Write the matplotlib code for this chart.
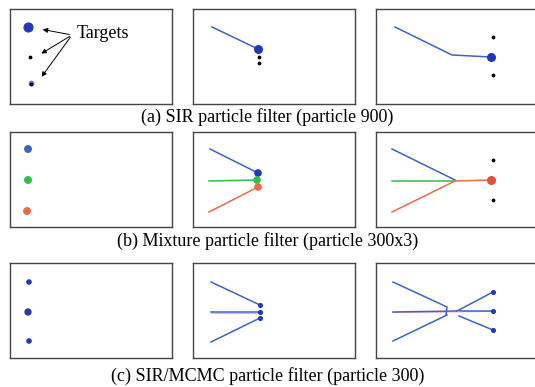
import matplotlib
matplotlib.use("Agg")
import matplotlib.pyplot as plt

# panel frame in pixel units (x right, y down), 162 x 95
BLUE = "#3b63c9"
BLOB = "#2338b8"
GREEN = "#2fbf45"
RED = "#ec6a45"

captions = [
    "(a) SIR particle filter (particle 900)",
    "(b) Mixture particle filter (particle 300x3)",
    "(c) SIR/MCMC particle filter (particle 300)",
]

# row a: SIR
a1_dots_x = [20, 21]
a1_dots_y = [48, 75]
a2_track_x = [19, 65]
a2_track_y = [18, 40]
a2_dots_x = [66, 66]
a2_dots_y = [48, 54]
a3_track_x = [19, 76, 115]
a3_track_y = [18, 46, 48]
a3_dots_x = [117, 117]
a3_dots_y = [28, 66]

# row b: mixture
b1_x = [18, 18, 17]
b1_y = [17, 48, 79]
b1_colors = [BLUE, GREEN, RED]
b2_blue_x, b2_blue_y = [17, 65], [17, 41]
b2_green_x, b2_green_y = [16, 64], [49, 48]
b2_red_x, b2_red_y = [16, 65], [80, 55]
b3_blue_x, b3_blue_y = [16, 79], [17, 48]
b3_green_x, b3_green_y = [16, 79], [49, 49]
b3_red_x, b3_red_y = [16, 79, 115], [80, 49, 48]
b3_dots_x = [117, 117]
b3_dots_y = [28, 68]

# row c: SIR/MCMC
c1_x = [19, 18, 19]
c1_y = [19, 49, 78]
c2_tracks = [([18, 67], [19, 42]), ([18, 67], [49, 49]), ([18, 67], [79, 55])]
c3_tracks = [
    ([17, 71, 70], [19, 44, 52]),
    ([17, 71], [78, 52]),
    ([17, 81], [49, 48]),
    ([81, 117], [48, 29]),
    ([84, 117], [48, 48]),
    ([83, 117], [53, 67]),
]
c3_heads_x = [117, 117, 117]
c3_heads_y = [29, 48, 67]

W, H = 535, 387
fig = plt.figure(figsize=(W / 100, H / 100), dpi=100)

col_x = [10, 193, 376]
row_top = [9, 132, 263]
axes = []
for r in range(3):
    row = []
    for c in range(3):
        ax = fig.add_axes([col_x[c] / W, 1 - (row_top[r] + 95) / H, 162 / W, 95 / H])
        ax.set_xlim(0, 162)
        ax.set_ylim(95, 0)
        ax.set_xticks([])
        ax.set_yticks([])
        for s in ax.spines.values():
            s.set_linewidth(1.0)
            s.set_color("#444444")
        row.append(ax)
    axes.append(row)

# (a)
ax = axes[0][0]
ax.scatter([18], [18], s=40, color=BLOB, zorder=3)
ax.scatter([21], [74], s=10, color="#4a66cc", alpha=0.8, zorder=3)
ax.scatter(a1_dots_x, a1_dots_y, s=3, color="black", zorder=4)
ax.text(67, 24, "Targets", fontsize=13, family="Liberation Serif", va="center")
for tx, ty in [(30, 20), (29, 46), (30, 70)]:
    ax.annotate("", xy=(tx, ty), xytext=(62, 26),
                arrowprops=dict(arrowstyle="-|>", color="black", lw=0.7, mutation_scale=7))

ax = axes[0][1]
ax.plot(a2_track_x, a2_track_y, color=BLUE, lw=1.1)
ax.scatter([a2_track_x[-1]], [a2_track_y[-1]], s=30, color=BLOB, zorder=3)
ax.scatter(a2_dots_x, a2_dots_y, s=3, color="black", zorder=4)

ax = axes[0][2]
ax.plot(a3_track_x, a3_track_y, color=BLUE, lw=1.1)
ax.scatter([a3_track_x[-1]], [a3_track_y[-1]], s=30, color=BLOB, zorder=3)
ax.scatter(a3_dots_x, a3_dots_y, s=3, color="black", zorder=4)

# (b)
ax = axes[1][0]
ax.scatter(b1_x, b1_y, s=22, color=b1_colors, zorder=3)

ax = axes[1][1]
ax.plot(b2_blue_x, b2_blue_y, color=BLUE, lw=1.1)
ax.plot(b2_green_x, b2_green_y, color=GREEN, lw=1.1)
ax.plot(b2_red_x, b2_red_y, color=RED, lw=1.1)
ax.scatter([b2_blue_x[-1], b2_green_x[-1], b2_red_x[-1]],
           [b2_blue_y[-1], b2_green_y[-1], b2_red_y[-1]],
           s=20, color=[BLOB, GREEN, RED], zorder=3)

ax = axes[1][2]
ax.plot(b3_blue_x, b3_blue_y, color=BLUE, lw=1.1)
ax.plot(b3_green_x, b3_green_y, color=GREEN, lw=1.1)
ax.plot(b3_red_x, b3_red_y, color=RED, lw=1.1)
ax.scatter([b3_red_x[-1]], [b3_red_y[-1]], s=30, color="#e0503a", zorder=3)
ax.scatter(b3_dots_x, b3_dots_y, s=3, color="black", zorder=4)

# (c)
ax = axes[2][0]
ax.scatter(c1_x, c1_y, s=[9, 18, 9], color=BLOB, zorder=3)

ax = axes[2][1]
for xs, ys in c2_tracks:
    ax.plot(xs, ys, color=BLUE, lw=1.1)
    ax.scatter([xs[-1]], [ys[-1]], s=7, color=BLOB, zorder=3)
ax.plot([18, 67], [49.6, 49.6], color="#c0408a", lw=0.5, alpha=0.6)

ax = axes[2][2]
for xs, ys in c3_tracks:
    ax.plot(xs, ys, color=BLUE, lw=1.1)
ax.plot([17, 117], [49.6, 48.6], color="#c0408a", lw=0.5, alpha=0.6)
ax.scatter(c3_heads_x, c3_heads_y, s=7, color=BLOB, zorder=3)

# captions
for cap, y in zip(captions, [117, 241, 376]):
    fig.text(0.5, 1 - y / H, cap, ha="center", va="center",
             fontsize=13, family="Liberation Serif")

fig.savefig("out.png", dpi=100)
